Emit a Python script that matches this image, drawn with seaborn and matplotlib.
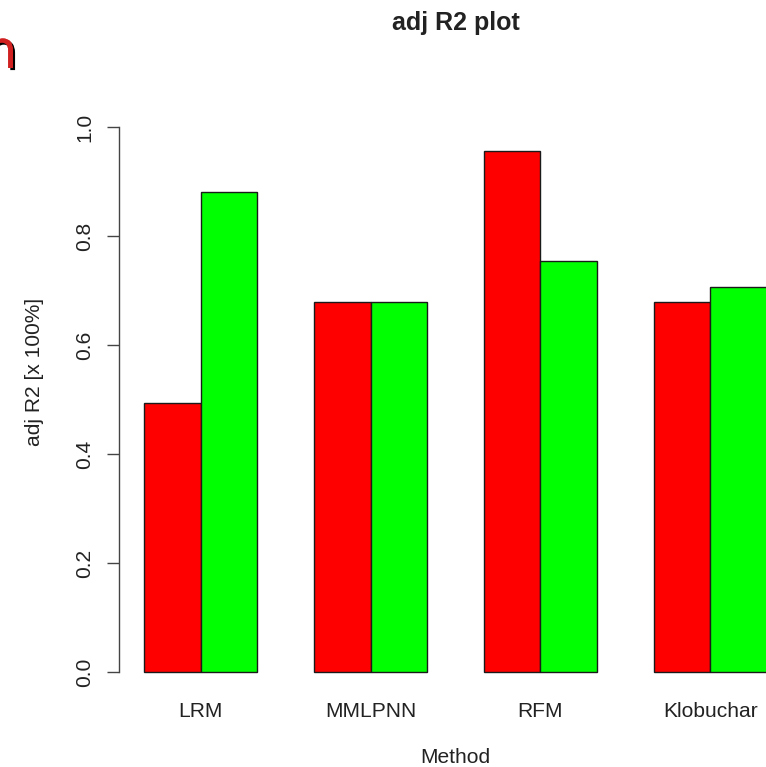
import matplotlib
matplotlib.use("Agg")
import matplotlib.pyplot as plt
import matplotlib.patheffects as pe
import seaborn as sns
import pandas as pd

# ---- data ----
methods = ["LRM", "MMLPNN", "RFM", "Klobuchar"]
series_names = ["Set 1", "Set 2"]
values_set1 = [0.494, 0.678, 0.956, 0.679]
values_set2 = [0.881, 0.679, 0.754, 0.706]
bar_colors = ["#FF0000", "#00FF00"]
yticks = [0.0, 0.2, 0.4, 0.6, 0.8, 1.0]
ytick_labels = ["0.0", "0.2", "0.4", "0.6", "0.8", "1.0"]
title = "adj R2 plot"
xlabel = "Method"
ylabel = "adj R2 [x 100%]"

df = pd.DataFrame({
    "Method": methods * 2,
    "value": values_set1 + values_set2,
    "series": [series_names[0]] * len(methods) + [series_names[1]] * len(methods),
})

sns.set_theme(style="white")
plt.rcParams["font.family"] = ["Liberation Sans", "DejaVu Sans"]

W, H = 766, 767
fig = plt.figure(figsize=(W / 100, H / 100), dpi=100)
left_px, right_px = 119, 792
top_px, bottom_px = 48.5, 696
ax = fig.add_axes([left_px / W, (H - bottom_px) / H,
                   (right_px - left_px) / W, (bottom_px - top_px) / H])

sns.barplot(data=df, x="Method", y="value", hue="series", order=methods,
            hue_order=series_names, palette=bar_colors, saturation=1,
            width=2 / 3, edgecolor="#1a1a1a", linewidth=1.0,
            errorbar=None, legend=False, ax=ax)

ax.set_xlim(-0.48, 3.48)
ax.set_ylim(-0.044, 1.144)
ax.set_yticks(yticks)
ax.set_yticklabels(ytick_labels)

for s in ["top", "right", "bottom"]:
    ax.spines[s].set_visible(False)
ax.spines["left"].set_bounds(0, 1)
ax.spines["left"].set_color("#444444")
ax.spines["left"].set_linewidth(1.0)

txt = "#222222"
ax.tick_params(axis="y", length=8.6, width=1.0, color="#444444", pad=9,
               labelsize=15.1, labelcolor=txt, labelrotation=90, left=True)
for lbl in ax.get_yticklabels():
    lbl.set_va("center")
ax.tick_params(axis="x", length=0, pad=4.3, labelsize=15.1, labelcolor=txt)

ax.set_xlabel(xlabel, fontsize=15.1, color=txt, labelpad=19.5)
ax.set_ylabel(ylabel, fontsize=15.1, color=txt)
ax.yaxis.set_label_coords((35 - left_px) / (right_px - left_px), 0.5)
ax.yaxis.label.set_va("center")
ax.set_title(title, fontsize=18, fontweight="bold", color=txt, pad=13.3)

# partial red heading letter at the top-left edge
fig.text(-16 / W, 1 - 68 / H, "n", fontsize=38, color="#D02020",
         family="DejaVu Sans", ha="left", va="baseline",
         path_effects=[pe.withSimplePatchShadow(offset=(1.5, -1.5),
                                                shadow_rgbFace="black", alpha=1),
                       pe.Normal()])

fig.savefig("out.png", dpi=100)
